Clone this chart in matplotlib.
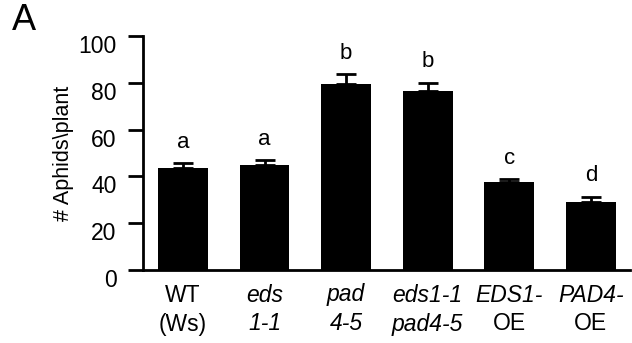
import matplotlib
matplotlib.use('Agg')
import matplotlib.pyplot as plt
import matplotlib.transforms as mtransforms
import numpy as np

plt.rcParams['font.family'] = ['Liberation Sans', 'DejaVu Sans']

line1 = ['WT', 'eds', 'pad', 'eds1-1', 'EDS1-', 'PAD4-']
line2 = ['(Ws)', '1-1', '4-5', 'pad4-5', 'OE', 'OE']
italic1 = [False, True, True, True, True, True]
italic2 = [False, True, True, True, False, False]
means = [43.6, 44.9, 79.4, 76.5, 37.5, 28.9]
errs = [2.1, 2.1, 4.2, 3.5, 1.3, 2.4]
letters = ['a', 'a', 'b', 'b', 'c', 'd']

W, H = 632, 343
fig = plt.figure(figsize=(W / 100, H / 100), dpi=100)
ax = fig.add_axes([143 / W, (H - 270) / H, (630 - 143) / W, (270 - 36) / H])

x = np.arange(len(means))
ax.bar(x, means, width=0.61, color='black', zorder=2)
ax.errorbar(x, means, yerr=[np.zeros(len(errs)), errs], fmt='none',
            ecolor='black', elinewidth=2, capsize=7.5, capthick=2, zorder=1)

for xi, m, e, l in zip(x, means, errs, letters):
    ax.annotate(l, (xi, m + e), xytext=(0, 15), textcoords='offset points',
                ha='center', va='center', fontsize=16)

ax.set_xlim(-0.49, 5.48)
ax.set_ylim(0, 100)
ax.set_yticks([0, 20, 40, 60, 80, 100])
ax.tick_params(axis='y', length=11, width=2, labelsize=16.5, pad=8)
ax.set_xticks([])
for s in ['top', 'right']:
    ax.spines[s].set_visible(False)
for s in ['left', 'bottom']:
    ax.spines[s].set_linewidth(2)

# tick labels sit a little below their ticks in the original
shift = mtransforms.ScaledTranslation(0, -8 / 100, fig.dpi_scale_trans)
for lab in ax.get_yticklabels():
    lab.set_transform(lab.get_transform() + shift)

for xi, t1, t2, i1, i2 in zip(x, line1, line2, italic1, italic2):
    ax.text(xi, -25 / 2.34, t1, ha='center', va='center', fontsize=16.5,
            style='italic' if i1 else 'normal')
    ax.text(xi, -54 / 2.34, t2, ha='center', va='center', fontsize=16.5,
            style='italic' if i2 else 'normal')

ax.set_ylabel('# Aphids\\plant', fontsize=15.5, labelpad=3)
fig.text(24 / W, 1 - 21 / H, 'A', fontsize=26, ha='center', va='center')

fig.savefig('out.png', dpi=100)
